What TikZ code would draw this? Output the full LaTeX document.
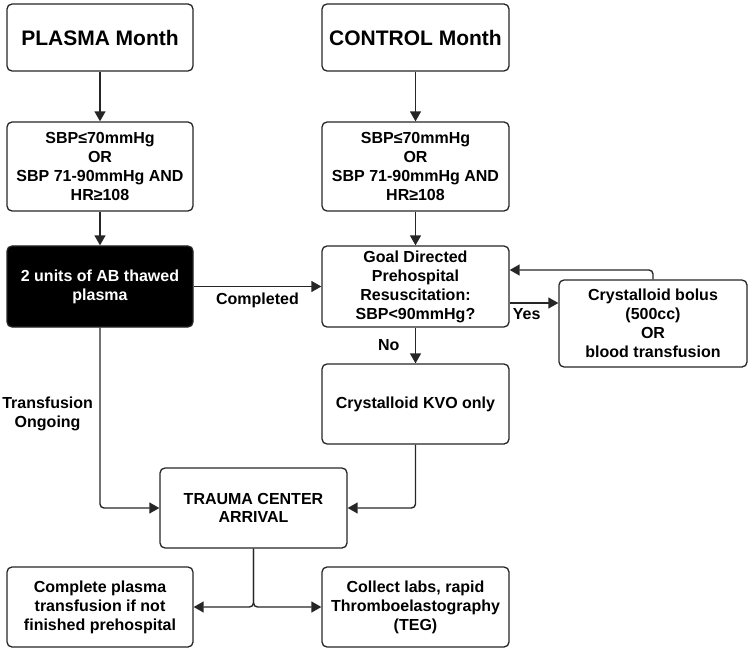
\documentclass[tikz,border=0pt]{standalone}
\usepackage{fontspec}
\setmainfont{Liberation Sans}
\usetikzlibrary{arrows.meta}

\begin{document}
\begin{tikzpicture}[
  x=1pt, y=-1pt,
  box/.style={
    draw=black!85,
    line width=1.3pt,
    rounded corners=5pt,
    fill=white,
    align=center,
    inner sep=2pt,
    font=\bfseries\fontsize{16}{19}\selectfont
  },
  titlebox/.style={box, font=\bfseries\fontsize{21}{25}\selectfont},
  darkbox/.style={box, fill=black, text=white},
  link/.style={
    draw=black!85,
    line width=1.4pt,
    rounded corners=4pt,
    -{Triangle[length=10pt,width=11pt]}
  },
  lbl/.style={font=\bfseries\fontsize{16}{19}\selectfont, align=center}
]
\useasboundingbox (0,0) rectangle (755,655);
\node[titlebox, minimum width=186pt, minimum height=67pt] (plasma) at (100,37.5) {PLASMA Month};
\node[titlebox, minimum width=187pt, minimum height=67pt] (control) at (415.5,37.5) {CONTROL Month};
\node[box, minimum width=186pt, minimum height=89pt] (critA) at (100,166.5) {SBP≤70mmHg\\OR\\SBP 71-90mmHg AND\\HR≥108};
\node[box, minimum width=187pt, minimum height=89pt] (critB) at (415.5,166.5) {SBP≤70mmHg\\OR\\SBP 71-90mmHg AND\\HR≥108};
\node[darkbox, minimum width=186pt, minimum height=81pt] (thawed) at (100,286.5) {2 units of AB thawed\\plasma};
\node[box, minimum width=187pt, minimum height=81pt] (goal) at (415.5,286.5) {Goal Directed\\Prehospital\\Resuscitation:\\SBP<90mmHg?};
\node[box, minimum width=188pt, minimum height=87pt] (bolus) at (653,323.5) {Crystalloid bolus\\(500cc)\\OR\\blood transfusion};
\node[box, minimum width=187pt, minimum height=80pt] (kvo) at (415.5,404) {Crystalloid KVO only};
\node[box, minimum width=187pt, minimum height=80pt, font=\bfseries\fontsize{16}{18}\selectfont] (trauma) at (253.5,508) {TRAUMA CENTER\\ARRIVAL};
\node[box, minimum width=186pt, minimum height=80pt] (complete) at (100,607) {Complete plasma\\transfusion if not\\finished prehospital};
\node[box, minimum width=187pt, minimum height=80pt] (collect) at (415.5,607) {Collect labs, rapid\\Thromboelastography\\(TEG)};

% arms
\draw[link] (plasma) -- (critA);
\draw[link] (control) -- (critB);
\draw[link] (critA) -- (thawed);
\draw[link] (critB) -- (goal);
\draw[link] (thawed) -- (goal) node[lbl, midway, below=2pt] {Completed};
% resuscitation loop
\draw[link] ([yshift=-16.5pt]goal.east) coordinate (yesA) -- (yesA -| bolus.west)
  node[lbl, pos=0.35, below=1pt] {Yes};
\coordinate (back) at ([yshift=16.5pt]goal.east);
\draw[link] (bolus.north) |- (back);
\draw[link] (goal) -- (kvo) node[lbl, midway, left=12pt] {No};
% arrival
\draw[link] (thawed) |- (trauma) node[lbl, pos=0.24, left=3pt] {Transfusion\\Ongoing};
\draw[link] (kvo) |- (trauma);
\draw[link] (trauma) |- (complete);
\draw[link] (trauma) |- (collect);
\end{tikzpicture}
\end{document}
